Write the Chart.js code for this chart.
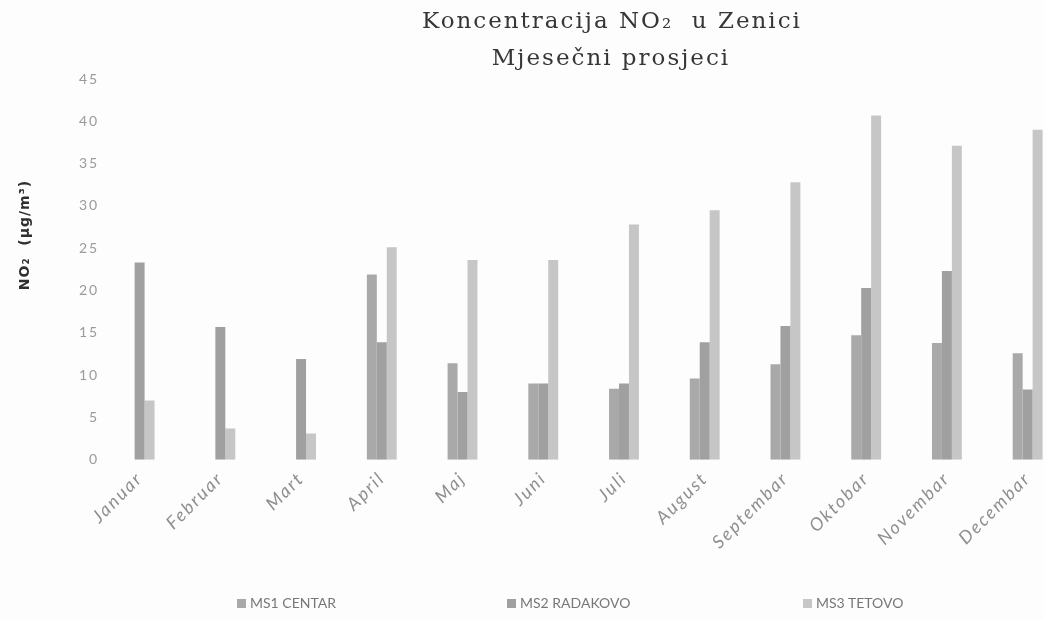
<!DOCTYPE html>
<html>
<head>
<meta charset="utf-8">
<script src="https://cdn.jsdelivr.net/npm/chart.js@4/dist/chart.umd.min.js"></script>
<style>
    html, body { margin: 0; padding: 0; background: #fdfdfd; overflow: hidden; }
    #wrap { width: 1068px; height: 619px; position: relative; }
    #legend { position: absolute; left: 237px; top: 594px; display: flex; font: 14px Lato, "Open Sans", sans-serif; color: #777; }
    #legend .item { display: flex; align-items: center; }
    #legend .box { width: 9px; height: 9px; margin-right: 4px; margin-top: 2px; }
</style>
</head>
<body>
<div id="wrap"><canvas id="chart"></canvas><div id="legend"></div></div>
<script>
const months = ['Januar', 'Februar', 'Mart', 'April', 'Maj', 'Juni', 'Juli', 'August', 'Septembar', 'Oktobar', 'Novembar', 'Decembar'];
const ms1Centar = [null, null, null, 21.9, 11.4, 9.0, 8.4, 9.6, 11.3, 14.7, 13.8, 12.6];
const ms2Radakovo = [23.3, 15.7, 11.9, 13.9, 8.0, 9.0, 9.0, 13.9, 15.8, 20.3, 22.3, 8.3];
const ms3Tetovo = [7.0, 3.7, 3.1, 25.1, 23.6, 23.6, 27.8, 29.5, 32.8, 40.7, 37.1, 39.0];
const yTicks = [0, 5, 10, 15, 20, 25, 30, 35, 40, 45];

const titleLines = ['Koncentracija NO\u2082  u Zenici', 'Mjese\u010dni prosjeci'];
const yTitle = 'NO\u2082  (\u00b5g/m\u00b3)';

// the scan is a bit stretched sideways, so all canvas text gets some letter spacing
const spacingPlugin = {
    id: 'spacing',
    beforeLayout(chart) { chart.ctx.letterSpacing = '2px'; },
    beforeDraw(chart) { chart.ctx.letterSpacing = '2px'; }
};

// title and y title drawn by hand, they sit off-center in the scan
const titlePlugin = {
    id: 'scanTitle',
    afterDraw(chart) {
        const ctx = chart.ctx;
        ctx.save();
        ctx.fillStyle = '#363636';
        ctx.letterSpacing = '2px';
        ctx.font = '23px "DejaVu Serif", "Liberation Serif", serif';
        ctx.textAlign = 'center';
        ctx.textBaseline = 'middle';
        ctx.fillText(titleLines[0], 612, 22);
        ctx.fillText(titleLines[1], 611, 59);

        ctx.letterSpacing = '1px';
        ctx.fillStyle = '#2e2e2e';
        ctx.font = 'bold 14px "DejaVu Sans", sans-serif';
        ctx.translate(25, 235);
        ctx.rotate(-Math.PI / 2);
        ctx.fillText(yTitle, 0, 0);
        ctx.restore();
    }
};

const chart = new Chart(document.getElementById('chart').getContext('2d'), {
    type: 'bar',
    data: {
        labels: months,
        datasets: [
            { label: 'MS1 CENTAR', data: ms1Centar, backgroundColor: '#a9a9a9' },
            { label: 'MS2 RADAKOVO', data: ms2Radakovo, backgroundColor: '#a0a0a0' },
            { label: 'MS3 TETOVO', data: ms3Tetovo, backgroundColor: '#c6c6c6' }
        ]
    },
    options: {
        responsive: true,
        maintainAspectRatio: false,
        animation: false,
        layout: { padding: { top: 79, left: 79, right: 0, bottom: 58 } },
        datasets: {
            bar: { categoryPercentage: 0.37, barPercentage: 1.0, borderWidth: 0 }
        },
        scales: {
            y: {
                min: 0,
                max: 45,
                afterBuildTicks: axis => { axis.ticks = yTicks.map(v => ({ value: v })); },
                grid: { display: false, drawTicks: false },
                border: { display: false },
                ticks: {
                    color: '#9a9a9a',
                    padding: 0,
                    font: { family: 'Lato, "Open Sans", sans-serif', size: 14 }
                }
            },
            x: {
                grid: { display: false, drawTicks: false },
                border: { display: false },
                ticks: {
                    color: '#8f8f8f',
                    minRotation: 45,
                    maxRotation: 45,
                    padding: 8,
                    font: { family: 'Lato, "Open Sans", sans-serif', size: 18, style: 'italic' }
                }
            }
        },
        plugins: {
            legend: { display: false },
            title: { display: false },
            tooltip: { enabled: false }
        }
    },
    plugins: [spacingPlugin, titlePlugin]
});

// legend as html so the items can be spread as wide as in the scan
const legendWidths = [270, 296, 0];
const legend = document.getElementById('legend');
chart.data.datasets.forEach((ds, i) => {
    const item = document.createElement('div');
    item.className = 'item';
    if (legendWidths[i]) item.style.width = legendWidths[i] + 'px';
    item.innerHTML = `<span class="box" style="background:${ds.backgroundColor}"></span><span>${ds.label}</span>`;
    legend.appendChild(item);
});
</script>
</body>
</html>
